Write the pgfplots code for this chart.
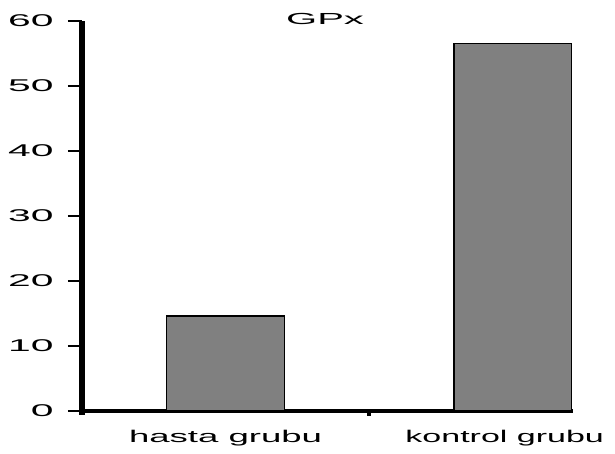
\documentclass[border=0pt]{standalone}
\usepackage{pgfplots}
\pgfplotsset{compat=1.18}
\usepackage{fontspec}
\setmainfont{Liberation Sans}
\newcommand\st[2][1.95]{\scalebox{#1}[1]{#2}}
\begin{document}
\begin{tikzpicture}
\useasboundingbox (0,0) rectangle (615pt,454pt);
\begin{axis}[
  at={(82pt,43pt)}, anchor=south west,
  scale only axis, width=491pt, height=390pt,
  xmin=-0.5, xmax=1.21, ymin=0, ymax=60,
  axis lines=left,
  axis line style={-},
  x axis line style={line width=4pt},
  y axis line style={line width=6pt, shorten <=-4pt},
  ytick={0,10,...,60},
  yticklabel={\st[2.4]{\pgfmathprintnumber{\tick}}},
  /pgf/number format/assume math mode=true,
  tick align=outside,
  major tick length=14pt,
  ytick style={line width=2pt, black},
  xtick={0,1},
  xticklabels={\st[2.15]{hasta grubu}, \st[2.0]{kontrol grubu}\hspace*{16pt}},
  xtick style={draw=none},
  tick label style={font=\fontsize{17}{20}\selectfont, black},
  yticklabel style={xshift=-11pt},
  xticklabel style={yshift=-2pt},
  title={\st[2.5]{GPx}},
  title style={at={(0.495,0.99)}, anchor=center, font=\fontsize{16}{20}\selectfont},
  clip=false,
  ybar, bar width=0.41,
]
\addplot[fill=gray, draw=black, line width=1.5pt] coordinates {(0,14.6) (1,56.5)};
\end{axis}
\begin{axis}[
  at={(82pt,43pt)}, anchor=south west,
  scale only axis, width=491pt, height=390pt,
  xmin=-0.5, xmax=1.21, ymin=0, ymax=60,
  hide axis, clip=false,
]
\draw[line width=4pt] (axis cs:0.5,0) -- ([yshift=-5pt]axis cs:0.5,0);
\end{axis}
\end{tikzpicture}
\end{document}
